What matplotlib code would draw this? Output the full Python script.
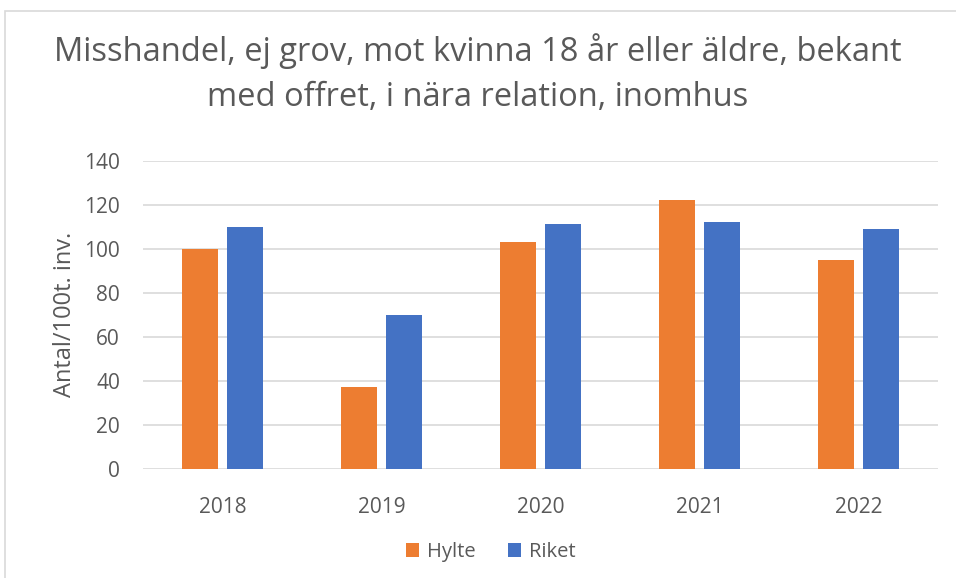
import numpy as np
import matplotlib
matplotlib.use('Agg')
from matplotlib import pyplot as plt
from matplotlib.patches import Rectangle

plt.rcParams['font.family'] = ['Open Sans', 'DejaVu Sans']

years = ['2018', '2019', '2020', '2021', '2022']
hylte = [100, 37, 103, 122, 95]
riket = [110, 70, 111, 112, 109]

txt = '#595959'
orange = '#ED7D31'
blue = '#4472C4'

fig = plt.figure(figsize=(9.56, 5.78), dpi=100)
ax = fig.add_axes([0.1496, 0.189, 0.8314, 0.533])

# chart frame (cropped at right/bottom)
fig.patches.append(Rectangle((5/956, -0.1), 1.2, 1 - 11/578 + 0.1,
                             transform=fig.transFigure, fill=False,
                             edgecolor='#D9D9D9', linewidth=1.2))

x = np.arange(len(years))
w = 0.2264
off = 0.1415
ax.bar(x - off, hylte, w, color=orange, label='Hylte', zorder=3)
ax.bar(x + off, riket, w, color=blue, label='Riket', zorder=3)

ax.set_xlim(-0.5, len(years) - 0.5)
ax.set_ylim(0, 140)
ax.set_yticks(range(0, 141, 20))
ax.set_xticks(x)
ax.set_xticklabels(years)
ax.yaxis.grid(True, color='#D9D9D9', linewidth=1.2, zorder=0)
for s in ax.spines.values():
    s.set_visible(False)
ax.tick_params(length=0, labelsize=15, colors=txt)
ax.tick_params(axis='y', pad=16.5)
ax.tick_params(axis='x', pad=20)
for t in ax.get_yticklabels():
    t.set_y(t.get_position()[1])
ax.set_ylabel('Antal/100t. inv.', fontsize=17, color=txt, labelpad=5)

fig.text(0.5, 0.873, 'Misshandel, ej grov, mot kvinna 18 år eller äldre, bekant\nmed offret, i nära relation, inomhus',
         ha='center', va='center', fontsize=23.5, color=txt, linespacing=1.5)

fig.legend(loc='center', bbox_to_anchor=(0.513, 0.045), ncol=2, frameon=False,
           fontsize=14.5, labelcolor=txt, handlelength=0.65, handleheight=0.65,
           columnspacing=1.6, handletextpad=0.4)

fig.savefig('out.png', dpi=100)
